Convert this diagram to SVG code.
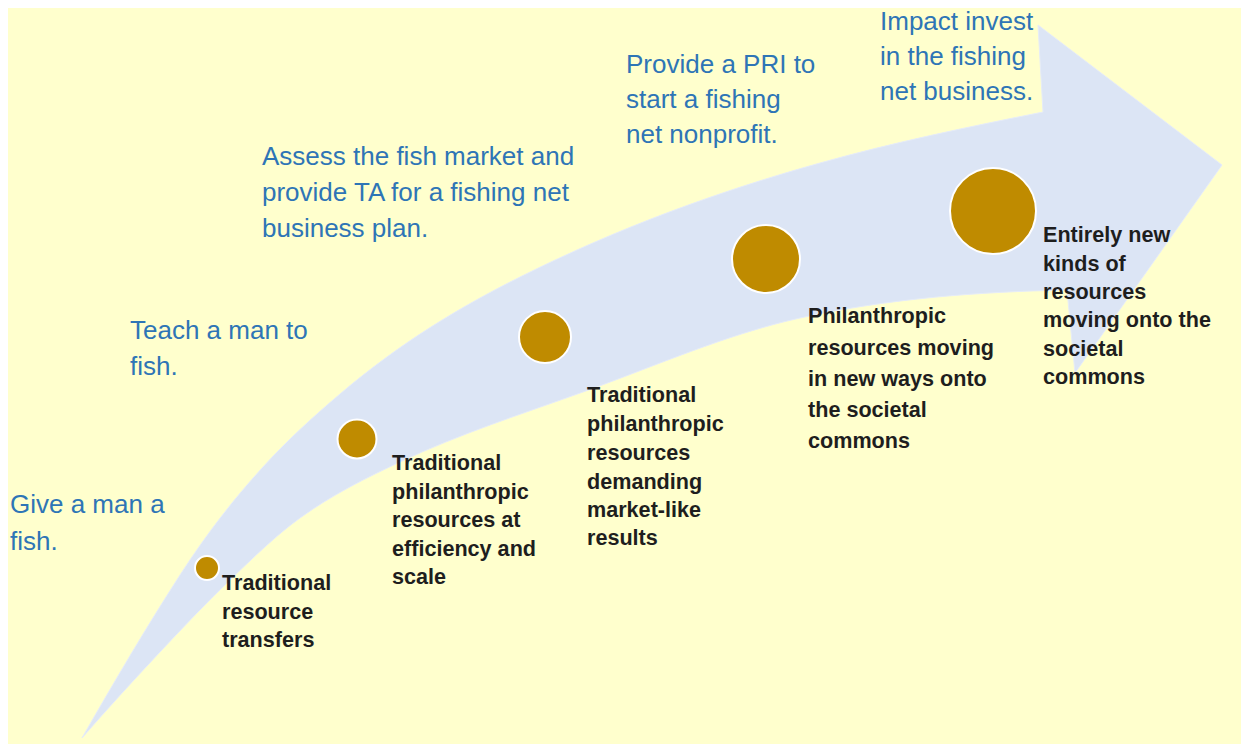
<svg xmlns="http://www.w3.org/2000/svg" width="1241" height="744" viewBox="0 0 1241 744">
<style>
.bg{fill:#FFFFCD}
.arrow{fill:#DCE5F5;stroke:#E6ECF8;stroke-width:1}
.dot{fill:#BF8B00;stroke:#FFFFFF;stroke-width:2}
.act{font-family:"Liberation Sans",Arial,sans-serif;font-size:26px;fill:#2E75B6}
.desc{font-family:"Liberation Sans",Arial,sans-serif;font-size:21.6px;font-weight:bold;fill:#1E1E1E}
</style>
<rect x="0" y="0" width="1241" height="744" fill="#FFFFFF"/>
<rect class="bg" x="8" y="8" width="1233" height="736"/>
<g id="connectors">
<path class="arrow" d="M82,738 C114.7,680.8 147.3,625.7 180,575 C207.3,532.7 234.7,498 262,468 C288,439.4 314,416.1 340,394 C400,343 460,307 520,277 C620,227 720,191 820,163 C894.3,142.2 968.7,126.9 1043,112 L1038,25 L1222,165 L1075,373 L1067,290 C978,291.8 889,298.4 800,318 C727.7,333.9 655.3,366 583,392 C522,414 461,433.3 400,462 C366.7,477.7 333.3,494 300,518 C276.7,534.8 253.3,557.6 230,580 C206.7,602.4 183.3,627.1 160,652 C134,679.8 108,708.1 82,738 Z"/>
</g>
<g id="stage1">
<circle class="dot" cx="207" cy="568" r="12"/>
<text class="desc" x="222" y="590">Traditional</text>
<text class="desc" x="222" y="618.5">resource</text>
<text class="desc" x="222" y="647">transfers</text>
<text class="act" x="10" y="513">Give a man a</text>
<text class="act" x="10" y="550">fish.</text>
</g>
<g id="stage2">
<circle class="dot" cx="357" cy="439" r="19.5"/>
<text class="desc" x="392" y="470">Traditional</text>
<text class="desc" x="392" y="498.5">philanthropic</text>
<text class="desc" x="392" y="527">resources at</text>
<text class="desc" x="392" y="555.5">efficiency and</text>
<text class="desc" x="392" y="584">scale</text>
<text class="act" x="130" y="339">Teach a man to</text>
<text class="act" x="130" y="375">fish.</text>
</g>
<g id="stage3">
<circle class="dot" cx="545" cy="337" r="26"/>
<text class="desc" x="587" y="402">Traditional</text>
<text class="desc" x="587" y="431">philanthropic</text>
<text class="desc" x="587" y="460">resources</text>
<text class="desc" x="587" y="488.5">demanding</text>
<text class="desc" x="587" y="517">market-like</text>
<text class="desc" x="587" y="545">results</text>
<text class="act" x="262" y="165">Assess the fish market and</text>
<text class="act" x="262" y="201">provide TA for a fishing net</text>
<text class="act" x="262" y="237">business plan.</text>
</g>
<g id="stage4">
<circle class="dot" cx="766" cy="259" r="34"/>
<text class="desc" x="808" y="323">Philanthropic</text>
<text class="desc" x="808" y="354.5">resources moving</text>
<text class="desc" x="808" y="386">in new ways onto</text>
<text class="desc" x="808" y="417">the societal</text>
<text class="desc" x="808" y="448">commons</text>
<text class="act" x="626" y="73">Provide a PRI to</text>
<text class="act" x="626" y="108">start a fishing</text>
<text class="act" x="626" y="143">net nonprofit.</text>
</g>
<g id="stage5">
<circle class="dot" cx="993" cy="211" r="43"/>
<text class="desc" x="1043" y="242">Entirely new</text>
<text class="desc" x="1043" y="270.5">kinds of</text>
<text class="desc" x="1043" y="299">resources</text>
<text class="desc" x="1043" y="327">moving onto the</text>
<text class="desc" x="1043" y="355.5">societal</text>
<text class="desc" x="1043" y="384">commons</text>
<text class="act" x="880" y="30">Impact invest</text>
<text class="act" x="880" y="65">in the fishing</text>
<text class="act" x="880" y="100">net business.</text>
</g>
</svg>
